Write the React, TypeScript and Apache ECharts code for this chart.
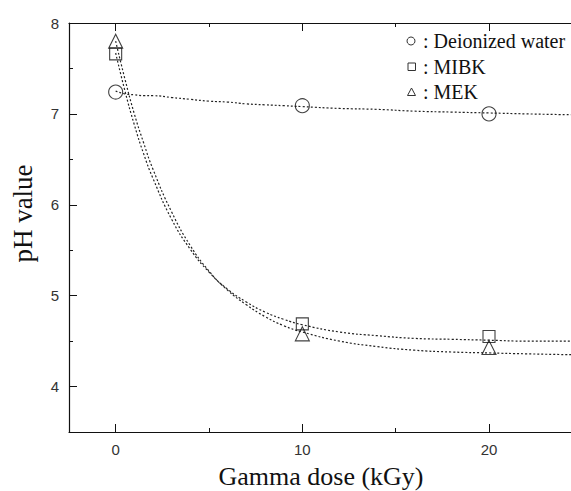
import React, { useEffect, useRef } from "react";
import * as echarts from "echarts";

// Measured data points
const doses = [0, 10, 20];
const waterPH = [7.24, 7.09, 7.0];
const mibkPH = [7.66, 4.69, 4.55];
const mekPH = [7.8, 4.58, 4.43];

// Fitted curves
const fitDose = [0, 0.5, 1, 1.5, 2, 3, 4, 5, 6, 7, 8, 9, 10, 12, 14, 16, 18, 20, 22, 24.5];
const waterFit = [7.25, 7.22, 7.21, 7.2, 7.2, 7.18, 7.16, 7.14, 7.13, 7.11, 7.1, 7.09, 7.08, 7.06, 7.05, 7.03, 7.02, 7.01, 7.0, 6.99];
const mibkFit = [7.67, 7.25, 6.88, 6.56, 6.29, 5.84, 5.51, 5.26, 5.07, 4.93, 4.82, 4.74, 4.68, 4.6, 4.56, 4.53, 4.52, 4.51, 4.5, 4.5];
const mekFit = [7.8, 7.38, 7.0, 6.68, 6.39, 5.92, 5.55, 5.27, 5.06, 4.9, 4.77, 4.67, 4.6, 4.5, 4.44, 4.4, 4.38, 4.37, 4.36, 4.35];

const xMajor = [0, 10, 20];
const xMinor = [5, 15];
const yMajor = [4, 5, 6, 7, 8];
const yMinor = [4.5, 5.5, 6.5, 7.5];

const seriesNames = ["Deionized water", "MIBK", "MEK"];
const xName = "Gamma dose (kGy)";
const yName = "pH value";

const SERIF = "'Liberation Serif', 'Times New Roman', serif";
const SANS = "'Liberation Sans', Arial, sans-serif";

export default function App() {
  const ref = useRef<HTMLDivElement>(null);
  useEffect(() => {
    if (!ref.current) return;
    const chart = echarts.init(ref.current, undefined, { renderer: "svg" });
    const pair = (xs: number[], ys: number[]) => xs.map((x, i) => [x, ys[i]]);
    const lineStyle = { color: "#222", width: 1.2, type: [2, 2] as any };
    const marker = (name: string, symbol: string, size: number, ys: number[]) => ({
      name,
      type: "scatter",
      symbol,
      symbolSize: size,
      data: pair(doses, ys),
      itemStyle: { color: "rgba(0,0,0,0)", borderColor: "#111", borderWidth: 1.1 },
      z: 5,
    });
    const fit = (ys: number[]) => ({
      type: "line",
      data: pair(fitDose, ys),
      showSymbol: false,
      symbol: "none",
      smooth: true,
      lineStyle,
      silent: true,
      z: 3,
    });
    const common = { min: -2.5, max: 24.5, type: "value" as const };
    const yCommon = { min: 3.5, max: 8, type: "value" as const };
    const line = (show: boolean) => ({ show, onZero: false, lineStyle: { color: "#111", width: 1.2 } });

    const iconStyle = { fill: "none", stroke: "#333", lineWidth: 1 };
    const legendRows = [41, 66.5, 92];
    const legendText = (i: number) => ({
      type: "text",
      x: 423,
      y: legendRows[i],
      style: { text: ": " + seriesNames[i], font: `20px ${SERIF}`, fill: "#111", textVerticalAlign: "middle", verticalAlign: "middle" },
    });
    chart.setOption({
      animation: false,
      backgroundColor: "#fff",
      grid: { left: 69, top: 23, right: -2, bottom: 59, containLabel: false, outerBoundsMode: "none" },
      graphic: [
        { type: "circle", shape: { cx: 411, cy: legendRows[0], r: 4 }, style: iconStyle },
        { type: "rect", shape: { x: 408, y: legendRows[1] - 3.5, width: 7.5, height: 7.5 }, style: iconStyle },
        { type: "polygon", shape: { points: [[411.5, legendRows[2] - 4], [407.5, legendRows[2] + 3.5], [415.5, legendRows[2] + 3.5]] }, style: iconStyle },
        legendText(0),
        legendText(1),
        legendText(2),
        {
          type: "text",
          x: 23,
          y: 213.5,
          rotation: Math.PI / 2,
          style: { text: yName, font: `27px ${SERIF}`, fill: "#111", align: "center", verticalAlign: "middle", textAlign: "center", textVerticalAlign: "middle" },
        },
      ],
      xAxis: [
        {
          ...common,
          position: "bottom",
          name: xName,
          nameLocation: "middle",
          nameGap: 31,
          nameTextStyle: { fontFamily: SERIF, fontSize: 26, color: "#111" },
          axisLine: line(true),
          axisTick: { show: true, inside: true, length: 8, customValues: xMajor, lineStyle: { color: "#111" } },
          axisLabel: { customValues: xMajor, fontFamily: SANS, fontSize: 15, color: "#333", margin: 10 },
          splitLine: { show: false },
        },
        {
          ...common,
          position: "top",
          axisLine: line(true),
          axisTick: { show: true, inside: true, length: 8, customValues: xMajor, lineStyle: { color: "#111" } },
          axisLabel: { show: false },
          splitLine: { show: false },
        },
        {
          ...common,
          position: "bottom",
          axisLine: line(false),
          axisTick: { show: true, inside: true, length: 4, customValues: xMinor, lineStyle: { color: "#111" } },
          axisLabel: { show: false },
          splitLine: { show: false },
        },
        {
          ...common,
          position: "top",
          axisLine: line(false),
          axisTick: { show: true, inside: true, length: 4, customValues: xMinor, lineStyle: { color: "#111" } },
          axisLabel: { show: false },
          splitLine: { show: false },
        },
      ],
      yAxis: [
        {
          ...yCommon,
          position: "left",
          axisLine: line(true),
          axisTick: { show: true, inside: true, length: 8, customValues: yMajor, lineStyle: { color: "#111" } },
          axisLabel: { customValues: yMajor, fontFamily: SANS, fontSize: 15, color: "#333", margin: 10 },
          splitLine: { show: false },
        },
        {
          ...yCommon,
          position: "left",
          axisLine: line(false),
          axisTick: { show: true, inside: true, length: 4, customValues: yMinor, lineStyle: { color: "#111" } },
          axisLabel: { show: false },
          splitLine: { show: false },
        },
      ],
      series: [
        fit(waterFit),
        fit(mibkFit),
        fit(mekFit),
        marker(seriesNames[0], "circle", 14, waterPH),
        marker(seriesNames[1], "rect", 12, mibkPH),
        marker(seriesNames[2], "triangle", 14, mekPH),
      ],
    });
    return () => chart.dispose();
  }, []);
  return <div ref={ref} style={{ position: "absolute", left: 0, top: 0, width: 571, height: 491 }} />;
}
